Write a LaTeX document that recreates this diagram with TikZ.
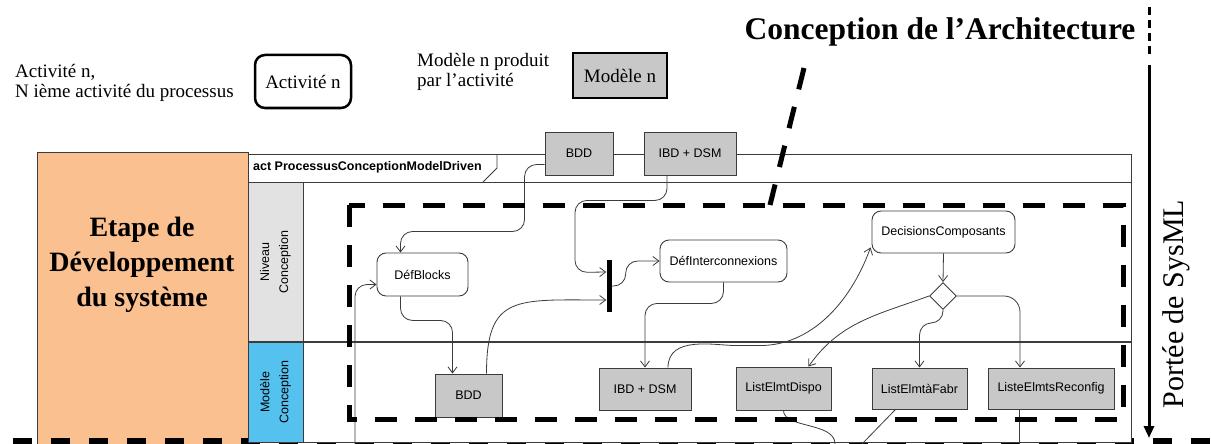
\documentclass[tikz,border=0pt]{standalone}
\usepackage{fontspec}
\setmainfont{Liberation Serif}
\newfontfamily\arialfont{Liberation Sans}
\usetikzlibrary{shapes.geometric,arrows.meta}
\definecolor{etapeOrange}{RGB}{250,192,144}
\definecolor{laneGray}{RGB}{226,226,226}
\definecolor{laneBlue}{RGB}{85,193,238}
\definecolor{modelGray}{RGB}{200,200,200}
\definecolor{wireGray}{RGB}{60,60,60}
\newcommand\diagfont{\arialfont\fontsize{12.5}{14}\selectfont}
\begin{document}
\begin{tikzpicture}[x=1pt, y=-1pt,
	legtext/.style={font=\fontsize{19}{20}\selectfont, align=left, anchor=west, inner sep=0pt},
	legact/.style={draw, line width=2.5pt, rounded corners=10pt, minimum width=96pt, minimum height=53pt, inner sep=0pt, font=\fontsize{19}{20}\selectfont},
	legmod/.style={draw, fill=modelGray, line width=2.5pt, minimum width=94pt, minimum height=45pt, inner sep=0pt, font=\fontsize{19}{20}\selectfont},
	actbox/.style={draw=wireGray, fill=white, line width=0.9pt, rounded corners=9pt, inner sep=0pt, font=\diagfont},
	modbox/.style={draw=wireGray, fill=modelGray, line width=0.9pt, inner sep=0pt, font=\diagfont},
	lanebox/.style={draw=wireGray, line width=0.9pt, rotate=90, inner sep=0pt, align=center, font=\arialfont\fontsize{12.5}{19}\selectfont},
	flow/.style={draw=wireGray, line width=0.8pt, rounded corners=12pt, -{Straight Barb[length=6pt,width=9pt]}},
	wire/.style={draw=wireGray, line width=0.9pt},
	scopeline/.style={line width=5pt, dash pattern=on 22pt off 18pt}]
	\fill[white] (0,0) rectangle (1211,444);
	\useasboundingbox (0,0) rectangle (1211,444);
	\clip (0,0) rectangle (1211,444);
	% legende
	\node[legtext] (legAct) at (15,83) {Activité n,\\N ième activité du processus};
	\node[legact] (exAct) at (303,81.5) {Activité n};
	\node[legtext] (legMod) at (417,72) {Modèle n produit\\par l’activité};
	\node[legmod] (exMod) at (620,75.5) {Modèle n};
	\node[font=\bfseries\fontsize{31.5}{34}\selectfont, inner sep=0pt] (title) at (940,32) {Conception de l’Architecture};
	% etape
	\node[draw=wireGray, fill=etapeOrange, line width=0.9pt, anchor=north west, minimum width=211pt, minimum height=300pt] (etape) at (37,152) {};
	\node[align=center, font=\bfseries\fontsize{28}{35}\selectfont] (etapeLbl) at (142,265) {Etape de\\Développement\\du système};
	\draw[line width=7pt, dash pattern=on 19pt off 19pt] (13,441) -- (1211,441);
	% cadre du diagramme
	\node[draw=wireGray, fill=white, line width=1pt, anchor=north west, minimum width=883pt, minimum height=288pt] (frame) at (248,154) {};
	\node[anchor=west, inner sep=0pt, font=\arialfont\bfseries\fontsize{12.5}{14}\selectfont] (actLbl) at (253,167) {act ProcessusConceptionModelDriven};
	\draw[wire] (497,154) -- (497,168) -- (483,182);
	\draw[wire] (248,182) -- (1131,182);
	\node[lanebox, fill=laneGray, minimum width=160pt, minimum height=55pt] (laneNiv) at (275.5,262) {Niveau\\Conception};
	\node[lanebox, fill=laneBlue, minimum width=100pt, minimum height=55pt] (laneMod) at (275.5,392) {Modèle\\Conception};
	\draw[wire, line width=1.4pt] (248,342) -- (1131,342);
	% portee SysML
	\coordinate (porteeA) at (1149,7);
	\coordinate (porteeB) at (1149,57);
	\coordinate (porteeC) at (1149,65);
	\coordinate (porteeD) at (1149,438);
	\draw[line width=3pt, dash pattern=on 8pt off 5pt] (porteeA) -- (porteeB);
	\draw[line width=3pt, -{Triangle[length=12pt,width=10pt]}] (porteeC) -- (porteeD);
	\node[rotate=90, inner sep=0pt, font=\fontsize{30}{32}\selectfont] (porteeLbl) at (1176,304) {Portée de SysML};
	% activites et modeles
	\node[modbox, minimum width=68pt, minimum height=43pt] (bddTop) at (579,153.5) {BDD};
	\node[modbox, minimum width=92pt, minimum height=43pt] (ibdTop) at (690,153.5) {IBD + DSM};
	\node[actbox, minimum width=91pt, minimum height=43pt] (defBlocks) at (422.5,274.5) {DéfBlocks};
	\node[fill=black, minimum width=5pt, minimum height=52pt, inner sep=0pt] (fork) at (609,286) {};
	\node[actbox, minimum width=127pt, minimum height=42pt] (defInter) at (723.5,261) {DéfInterconnexions};
	\node[actbox, minimum width=143pt, minimum height=42pt] (decComp) at (943.5,232) {DecisionsComposants};
	\node[diamond, draw=wireGray, fill=white, line width=0.9pt, minimum width=27pt, minimum height=27pt, inner sep=0pt] (decision) at (943,296) {};
	\node[modbox, minimum width=67pt, minimum height=43pt] (bddMod) at (468.5,395.5) {BDD};
	\node[modbox, minimum width=92pt, minimum height=42pt] (ibdMod) at (645,389) {IBD + DSM};
	\node[modbox, minimum width=95pt, minimum height=43pt] (listDispo) at (783.5,388.5) {ListElmtDispo};
	\node[modbox, minimum width=95pt, minimum height=41pt] (listFabr) at (919.5,388.5) {ListElmtàFabr};
	\node[modbox, minimum width=126pt, minimum height=41pt] (listReconf) at (1051,388.5) {ListeElmtsReconfig};
	% flots
	\draw[flow] ([yshift=-11pt]bddTop.west) -| ++(-20,67) -| ([xshift=-22pt]defBlocks.north);
	\draw[flow] ([xshift=-23pt]ibdTop.south) -- ++(0,25) -| ++(-92,72) -- ([yshift=14pt]fork.west);
	\draw[flow] ([xshift=18pt]bddMod.north) .. controls +(0,-80) and +(-90,0) .. ([yshift=-14pt]fork.west);
	\draw[flow] ([xshift=-22pt]defBlocks.south) -- ++(0,24) -| ([xshift=-16pt]bddMod.north);
	\draw[flow] (fork.east) -- ++(14,0) |- (defInter.west);
	\draw[flow] (defInter.south) -- ++(0,21) -| (ibdMod.north);
	\draw[flow] ([xshift=23pt]ibdMod.north) to[out=90, in=180] ++(80,-22) to[out=0, in=-110] ([shift={(-1pt,6pt)}]decComp.south west);
	\draw[flow] (decComp.south) -- (decision.north);
	\draw[flow] (decision.west) to[out=200, in=55] ([xshift=25pt]listDispo.north);
	\draw[flow] (decision.south) -- ++(0,13) -| (listFabr.north);
	\draw[flow, rounded corners=16pt] (decision.east) -| ([xshift=-31pt]listReconf.north);
	\coordinate (outBlocks) at (355,444);
	\coordinate (outDispo) at (835,444);
	\coordinate (outFabr) at (862,444);
	\coordinate (outReconf) at (1019,444);
	\draw[flow] (outBlocks) |- ([yshift=-10pt]defBlocks.west);
	\draw[wire, line width=0.8pt] (listDispo.south) .. controls +(0,18) and +(0,-22) .. (outDispo);
	\draw[wire, line width=0.8pt] ([xshift=-24pt]listFabr.south) -- (outFabr);
	\draw[wire, line width=0.8pt] ([xshift=-32pt]listReconf.south) -- (outReconf);
	% perimetre conception de l'architecture
	\draw[scopeline] (349,205) rectangle (1123,419);
	\coordinate (slantTop) at (804,68);
	\coordinate (slantEnd) at (770,205);
	\draw[scopeline] (slantTop) -- (slantEnd);
\end{tikzpicture}
\end{document}
